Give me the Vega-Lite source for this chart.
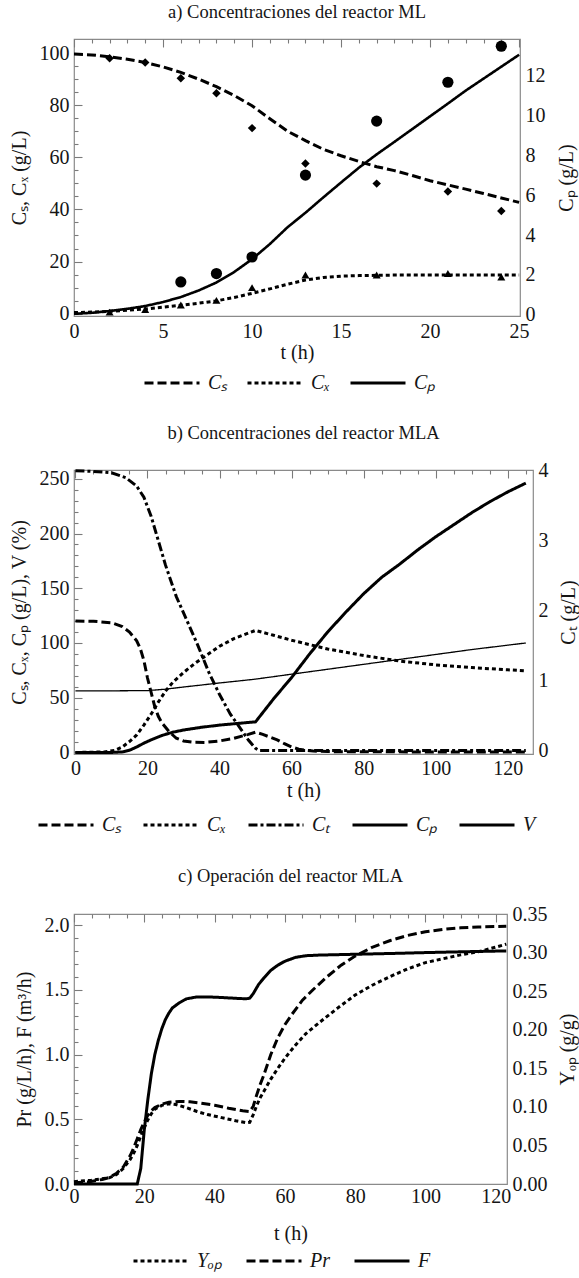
{
  "$schema": "https://vega.github.io/schema/vega-lite/v6.json",
  "background": "white",
  "padding": {"left": 8, "top": 2, "right": 0, "bottom": 0},
  "spacing": 29,
  "align": "none",
  "bounds": "full",
  "datasets": {
    "a_curves": [
      {"s":"Cₛ","t":0,"v":99.6},{"s":"Cₛ","t":1,"v":99.3},{"s":"Cₛ","t":2,"v":98.6},{"s":"Cₛ","t":3,"v":97.6},{"s":"Cₛ","t":4,"v":96.4},{"s":"Cₛ","t":5,"v":94.7},{"s":"Cₛ","t":6,"v":92.6},{"s":"Cₛ","t":7,"v":90.0},{"s":"Cₛ","t":8,"v":87.1},{"s":"Cₛ","t":9,"v":83.7},{"s":"Cₛ","t":10,"v":79.8},{"s":"Cₛ","t":11,"v":74.8},{"s":"Cₛ","t":12,"v":70.0},{"s":"Cₛ","t":13,"v":66.4},{"s":"Cₛ","t":14,"v":63.1},{"s":"Cₛ","t":15,"v":60.6},{"s":"Cₛ","t":16,"v":58.4},{"s":"Cₛ","t":17,"v":56.4},{"s":"Cₛ","t":18,"v":54.9},{"s":"Cₛ","t":19,"v":53.0},{"s":"Cₛ","t":20,"v":51.0},{"s":"Cₛ","t":21,"v":49.4},{"s":"Cₛ","t":22,"v":47.8},{"s":"Cₛ","t":23,"v":46.1},{"s":"Cₛ","t":24,"v":44.4},{"s":"Cₛ","t":25,"v":42.7},
      {"s":"Cₓ","t":0,"v":0.4},{"s":"Cₓ","t":1,"v":0.6},{"s":"Cₓ","t":2,"v":0.9},{"s":"Cₓ","t":3,"v":1.3},{"s":"Cₓ","t":4,"v":1.8},{"s":"Cₓ","t":5,"v":2.5},{"s":"Cₓ","t":6,"v":3.2},{"s":"Cₓ","t":7,"v":4.0},{"s":"Cₓ","t":8,"v":4.9},{"s":"Cₓ","t":9,"v":6.2},{"s":"Cₓ","t":10,"v":7.8},{"s":"Cₓ","t":11,"v":9.5},{"s":"Cₓ","t":12,"v":11.3},{"s":"Cₓ","t":13,"v":12.9},{"s":"Cₓ","t":14,"v":13.9},{"s":"Cₓ","t":15,"v":14.4},{"s":"Cₓ","t":16,"v":14.6},{"s":"Cₓ","t":17,"v":14.7},{"s":"Cₓ","t":18,"v":14.8},{"s":"Cₓ","t":20,"v":14.8},{"s":"Cₓ","t":22,"v":14.8},{"s":"Cₓ","t":25,"v":14.8},
      {"s":"Cₚ","t":0,"v":0.05},{"s":"Cₚ","t":1,"v":0.1},{"s":"Cₚ","t":2,"v":0.19},{"s":"Cₚ","t":3,"v":0.3},{"s":"Cₚ","t":4,"v":0.44},{"s":"Cₚ","t":5,"v":0.64},{"s":"Cₚ","t":6,"v":0.89},{"s":"Cₚ","t":7,"v":1.22},{"s":"Cₚ","t":8,"v":1.62},{"s":"Cₚ","t":9,"v":2.15},{"s":"Cₚ","t":10,"v":2.79},{"s":"Cₚ","t":11,"v":3.55},{"s":"Cₚ","t":12,"v":4.4},{"s":"Cₚ","t":13,"v":5.12},{"s":"Cₚ","t":14,"v":5.89},{"s":"Cₚ","t":15,"v":6.64},{"s":"Cₚ","t":16,"v":7.38},{"s":"Cₚ","t":17,"v":8.05},{"s":"Cₚ","t":18,"v":8.68},{"s":"Cₚ","t":19,"v":9.32},{"s":"Cₚ","t":20,"v":9.96},{"s":"Cₚ","t":21,"v":10.6},{"s":"Cₚ","t":22,"v":11.25},{"s":"Cₚ","t":23,"v":11.85},{"s":"Cₚ","t":24,"v":12.45},{"s":"Cₚ","t":25,"v":13.05}
    ],
    "a_points": [
      {"s":"Cₛ","t":2,"v":98.0},{"s":"Cₛ","t":4,"v":96.4},{"s":"Cₛ","t":6,"v":90.3},{"s":"Cₛ","t":8,"v":84.6},{"s":"Cₛ","t":10,"v":71.2},{"s":"Cₛ","t":13,"v":57.6},{"s":"Cₛ","t":17,"v":49.9},{"s":"Cₛ","t":21,"v":46.9},{"s":"Cₛ","t":24,"v":39.4},
      {"s":"Cₓ","t":2,"v":0.6},{"s":"Cₓ","t":4,"v":1.6},{"s":"Cₓ","t":6,"v":3.3},{"s":"Cₓ","t":8,"v":5.1},{"s":"Cₓ","t":10,"v":10.0},{"s":"Cₓ","t":13,"v":14.8},{"s":"Cₓ","t":17,"v":14.8},{"s":"Cₓ","t":21,"v":15.4},{"s":"Cₓ","t":24,"v":14.1},
      {"s":"Cₚ","t":6,"v":1.65},{"s":"Cₚ","t":8,"v":2.07},{"s":"Cₚ","t":10,"v":2.9},{"s":"Cₚ","t":13,"v":7.01},{"s":"Cₚ","t":17,"v":9.72},{"s":"Cₚ","t":21,"v":11.67},{"s":"Cₚ","t":24,"v":13.48}
    ],
    "b_curves": [
      {"s":"Cₛ","t":0,"v":120},{"s":"Cₛ","t":5,"v":119.8},{"s":"Cₛ","t":10,"v":118.5},{"s":"Cₛ","t":13,"v":115},{"s":"Cₛ","t":15,"v":110},{"s":"Cₛ","t":17,"v":102},{"s":"Cₛ","t":18,"v":95},{"s":"Cₛ","t":19,"v":84},{"s":"Cₛ","t":20,"v":68},{"s":"Cₛ","t":21,"v":55},{"s":"Cₛ","t":22,"v":42},{"s":"Cₛ","t":23,"v":33},{"s":"Cₛ","t":24,"v":27},{"s":"Cₛ","t":26,"v":19},{"s":"Cₛ","t":28,"v":13},{"s":"Cₛ","t":30,"v":10.5},{"s":"Cₛ","t":33,"v":9.3},{"s":"Cₛ","t":36,"v":9.2},{"s":"Cₛ","t":40,"v":10.5},{"s":"Cₛ","t":44,"v":13},{"s":"Cₛ","t":48,"v":16.5},{"s":"Cₛ","t":50,"v":18.5},{"s":"Cₛ","t":52,"v":16.5},{"s":"Cₛ","t":54,"v":14},{"s":"Cₛ","t":56,"v":11.5},{"s":"Cₛ","t":58,"v":8},{"s":"Cₛ","t":60,"v":5},{"s":"Cₛ","t":62,"v":3},{"s":"Cₛ","t":64,"v":2},{"s":"Cₛ","t":66,"v":1.3},{"s":"Cₛ","t":70,"v":0.8},{"s":"Cₛ","t":80,"v":0.6},{"s":"Cₛ","t":100,"v":0.5},{"s":"Cₛ","t":125,"v":0.5},
      {"s":"Cₓ","t":0,"v":0},{"s":"Cₓ","t":8,"v":0.5},{"s":"Cₓ","t":11,"v":2},{"s":"Cₓ","t":13,"v":5},{"s":"Cₓ","t":15,"v":10},{"s":"Cₓ","t":17,"v":16},{"s":"Cₓ","t":19,"v":25},{"s":"Cₓ","t":21,"v":35},{"s":"Cₓ","t":23,"v":46},{"s":"Cₓ","t":25,"v":56},{"s":"Cₓ","t":27,"v":64},{"s":"Cₓ","t":30,"v":73},{"s":"Cₓ","t":33,"v":81},{"s":"Cₓ","t":36,"v":88},{"s":"Cₓ","t":40,"v":97},{"s":"Cₓ","t":44,"v":104},{"s":"Cₓ","t":48,"v":109},{"s":"Cₓ","t":50,"v":111.5},{"s":"Cₓ","t":55,"v":107},{"s":"Cₓ","t":60,"v":102.5},{"s":"Cₓ","t":70,"v":94.5},{"s":"Cₓ","t":80,"v":88.5},{"s":"Cₓ","t":90,"v":83.5},{"s":"Cₓ","t":100,"v":80},{"s":"Cₓ","t":110,"v":77.5},{"s":"Cₓ","t":120,"v":75.5},{"s":"Cₓ","t":125,"v":74.5},
      {"s":"Cₚ","t":0,"v":0},{"s":"Cₚ","t":10,"v":0},{"s":"Cₚ","t":13,"v":0.5},{"s":"Cₚ","t":15,"v":2},{"s":"Cₚ","t":17,"v":5},{"s":"Cₚ","t":19,"v":8.5},{"s":"Cₚ","t":21,"v":11.5},{"s":"Cₚ","t":24,"v":15.5},{"s":"Cₚ","t":27,"v":18.5},{"s":"Cₚ","t":30,"v":20.5},{"s":"Cₚ","t":35,"v":23},{"s":"Cₚ","t":40,"v":25},{"s":"Cₚ","t":45,"v":26.5},{"s":"Cₚ","t":50,"v":28},{"s":"Cₚ","t":55,"v":49},{"s":"Cₚ","t":60,"v":68.5},{"s":"Cₚ","t":65,"v":90},{"s":"Cₚ","t":70,"v":110},{"s":"Cₚ","t":75,"v":128},{"s":"Cₚ","t":80,"v":145},{"s":"Cₚ","t":85,"v":160},{"s":"Cₚ","t":90,"v":172},{"s":"Cₚ","t":95,"v":185},{"s":"Cₚ","t":100,"v":197},{"s":"Cₚ","t":105,"v":208},{"s":"Cₚ","t":110,"v":219},{"s":"Cₚ","t":115,"v":229},{"s":"Cₚ","t":120,"v":238},{"s":"Cₚ","t":125,"v":246},
      {"s":"V","t":0,"v":56.3},{"s":"V","t":10,"v":56.3},{"s":"V","t":20,"v":56.5},{"s":"V","t":25,"v":57.8},{"s":"V","t":30,"v":59.8},{"s":"V","t":35,"v":61.6},{"s":"V","t":40,"v":63.5},{"s":"V","t":45,"v":65.2},{"s":"V","t":50,"v":67},{"s":"V","t":60,"v":71.5},{"s":"V","t":70,"v":76},{"s":"V","t":80,"v":80.5},{"s":"V","t":90,"v":85},{"s":"V","t":100,"v":89.5},{"s":"V","t":110,"v":94},{"s":"V","t":120,"v":98},{"s":"V","t":125,"v":100}
    ],
    "b_ct": [
      {"s":"Cₜ","t":0,"v":4.0},{"s":"Cₜ","t":5,"v":3.99},{"s":"Cₜ","t":10,"v":3.97},{"s":"Cₜ","t":14,"v":3.9},{"s":"Cₜ","t":17,"v":3.78},{"s":"Cₜ","t":19,"v":3.62},{"s":"Cₜ","t":21,"v":3.35},{"s":"Cₜ","t":23,"v":3.0},{"s":"Cₜ","t":25,"v":2.65},{"s":"Cₜ","t":28,"v":2.2},{"s":"Cₜ","t":31,"v":1.85},{"s":"Cₜ","t":34,"v":1.5},{"s":"Cₜ","t":37,"v":1.12},{"s":"Cₜ","t":40,"v":0.8},{"s":"Cₜ","t":43,"v":0.52},{"s":"Cₜ","t":46,"v":0.3},{"s":"Cₜ","t":48,"v":0.15},{"s":"Cₜ","t":50,"v":0.03},{"s":"Cₜ","t":51,"v":0},{"s":"Cₜ","t":80,"v":0},{"s":"Cₜ","t":125,"v":0}
    ],
    "c_left": [
      {"s":"Pr","t":0,"v":0.01},{"s":"Pr","t":4,"v":0.015},{"s":"Pr","t":6,"v":0.025},{"s":"Pr","t":8,"v":0.035},{"s":"Pr","t":10,"v":0.05},{"s":"Pr","t":12,"v":0.08},{"s":"Pr","t":14,"v":0.13},{"s":"Pr","t":16,"v":0.22},{"s":"Pr","t":17,"v":0.28},{"s":"Pr","t":18,"v":0.35},{"s":"Pr","t":19,"v":0.42},{"s":"Pr","t":20,"v":0.48},{"s":"Pr","t":21,"v":0.53},{"s":"Pr","t":22,"v":0.565},{"s":"Pr","t":23,"v":0.59},{"s":"Pr","t":25,"v":0.617},{"s":"Pr","t":27,"v":0.632},{"s":"Pr","t":30,"v":0.638},{"s":"Pr","t":33,"v":0.635},{"s":"Pr","t":36,"v":0.625},{"s":"Pr","t":40,"v":0.608},{"s":"Pr","t":44,"v":0.585},{"s":"Pr","t":48,"v":0.565},{"s":"Pr","t":50,"v":0.56},{"s":"Pr","t":51,"v":0.6},{"s":"Pr","t":52,"v":0.69},{"s":"Pr","t":53,"v":0.77},{"s":"Pr","t":54,"v":0.84},{"s":"Pr","t":56,"v":1.0},{"s":"Pr","t":58,"v":1.13},{"s":"Pr","t":60,"v":1.23},{"s":"Pr","t":62,"v":1.31},{"s":"Pr","t":65,"v":1.42},{"s":"Pr","t":68,"v":1.5},{"s":"Pr","t":72,"v":1.6},{"s":"Pr","t":76,"v":1.69},{"s":"Pr","t":80,"v":1.76},{"s":"Pr","t":85,"v":1.83},{"s":"Pr","t":90,"v":1.88},{"s":"Pr","t":95,"v":1.92},{"s":"Pr","t":100,"v":1.948},{"s":"Pr","t":105,"v":1.966},{"s":"Pr","t":110,"v":1.978},{"s":"Pr","t":115,"v":1.985},{"s":"Pr","t":123,"v":1.99},
      {"s":"F","t":0,"v":0},{"s":"F","t":18,"v":0},{"s":"F","t":19,"v":0.12},{"s":"F","t":20,"v":0.42},{"s":"F","t":21,"v":0.65},{"s":"F","t":22,"v":0.85},{"s":"F","t":23,"v":1.0},{"s":"F","t":24,"v":1.11},{"s":"F","t":25,"v":1.2},{"s":"F","t":26,"v":1.27},{"s":"F","t":27,"v":1.32},{"s":"F","t":28,"v":1.36},{"s":"F","t":30,"v":1.4},{"s":"F","t":32,"v":1.43},{"s":"F","t":35,"v":1.445},{"s":"F","t":38,"v":1.445},{"s":"F","t":42,"v":1.44},{"s":"F","t":46,"v":1.434},{"s":"F","t":49,"v":1.43},{"s":"F","t":50,"v":1.435},{"s":"F","t":51,"v":1.47},{"s":"F","t":52.5,"v":1.54},{"s":"F","t":54,"v":1.59},{"s":"F","t":56,"v":1.65},{"s":"F","t":58,"v":1.69},{"s":"F","t":60,"v":1.72},{"s":"F","t":63,"v":1.75},{"s":"F","t":66,"v":1.763},{"s":"F","t":70,"v":1.768},{"s":"F","t":80,"v":1.774},{"s":"F","t":90,"v":1.78},{"s":"F","t":100,"v":1.787},{"s":"F","t":110,"v":1.793},{"s":"F","t":123,"v":1.8}
    ],
    "c_yield": [
      {"s":"Yₒₚ","t":0,"v":0.003},{"s":"Yₒₚ","t":5,"v":0.005},{"s":"Yₒₚ","t":10,"v":0.008},{"s":"Yₒₚ","t":12,"v":0.012},{"s":"Yₒₚ","t":14,"v":0.02},{"s":"Yₒₚ","t":16,"v":0.032},{"s":"Yₒₚ","t":17,"v":0.04},{"s":"Yₒₚ","t":18,"v":0.05},{"s":"Yₒₚ","t":19,"v":0.062},{"s":"Yₒₚ","t":20,"v":0.073},{"s":"Yₒₚ","t":21,"v":0.083},{"s":"Yₒₚ","t":22,"v":0.091},{"s":"Yₒₚ","t":23,"v":0.097},{"s":"Yₒₚ","t":25,"v":0.102},{"s":"Yₒₚ","t":27,"v":0.104},{"s":"Yₒₚ","t":29,"v":0.103},{"s":"Yₒₚ","t":32,"v":0.099},{"s":"Yₒₚ","t":35,"v":0.094},{"s":"Yₒₚ","t":38,"v":0.09},{"s":"Yₒₚ","t":42,"v":0.086},{"s":"Yₒₚ","t":46,"v":0.082},{"s":"Yₒₚ","t":49,"v":0.0795},{"s":"Yₒₚ","t":50,"v":0.08},{"s":"Yₒₚ","t":51,"v":0.09},{"s":"Yₒₚ","t":52,"v":0.102},{"s":"Yₒₚ","t":53,"v":0.112},{"s":"Yₒₚ","t":54,"v":0.12},{"s":"Yₒₚ","t":56,"v":0.136},{"s":"Yₒₚ","t":58,"v":0.15},{"s":"Yₒₚ","t":60,"v":0.163},{"s":"Yₒₚ","t":63,"v":0.18},{"s":"Yₒₚ","t":66,"v":0.195},{"s":"Yₒₚ","t":70,"v":0.21},{"s":"Yₒₚ","t":75,"v":0.228},{"s":"Yₒₚ","t":80,"v":0.245},{"s":"Yₒₚ","t":85,"v":0.258},{"s":"Yₒₚ","t":90,"v":0.269},{"s":"Yₒₚ","t":95,"v":0.279},{"s":"Yₒₚ","t":100,"v":0.287},{"s":"Yₒₚ","t":105,"v":0.292},{"s":"Yₒₚ","t":110,"v":0.297},{"s":"Yₒₚ","t":115,"v":0.301},{"s":"Yₒₚ","t":120,"v":0.307},{"s":"Yₒₚ","t":123,"v":0.311}
    ]
  },
  "vconcat": [
    {
      "title": {"text": "a) Concentraciones del reactor ML", "offset": 14},
      "width": 446,
      "height": 277,
      "layer": [
        {
          "layer": [
            {
              "data": {"name": "a_curves"},
              "transform": [{"filter": "datum.s !== 'Cₚ'"}],
              "mark": {"type": "line", "strokeWidth": 3},
              "encoding": {
                "x": {"field": "t", "type": "quantitative", "scale": {"domain": [0, 25.05], "nice": false, "zero": false},
                  "axis": {"orient": "bottom", "title": "t (h)", "values": [0,1,2,3,4,5,6,7,8,9,10,11,12,13,14,15,16,17,18,19,20,21,22,23,24,25],
                    "labelExpr": "datum.value % 5 === 0 ? datum.label : ''", "labelOverlap": false,
                    "gridDash": {"condition": {"test": "datum.value % 5 === 0", "value": [8, 2000]}, "value": [4, 2000]}, "labelPadding": 5, "titlePadding": 1}},
                "y": {"field": "v", "type": "quantitative", "scale": {"domain": [-0.9, 105.4], "nice": false, "zero": false},
                  "axis": {"orient": "left", "title": "Cₛ, Cₓ (g/L)", "values": [0,5,10,15,20,25,30,35,40,45,50,55,60,65,70,75,80,85,90,95,100],
                    "labelExpr": "datum.value % 20 === 0 ? datum.label : ''", "labelOverlap": false,
                    "gridDash": {"condition": {"test": "datum.value % 20 === 0", "value": [8, 2000]}, "value": [4, 2000]}, "labelPadding": 5, "titlePadding": 10}},
                "strokeDash": {"field": "s", "type": "nominal", "scale": {"domain": ["Cₛ", "Cₓ", "Cₚ"], "range": [[9, 4], [4, 3], [1, 0]]},
                  "legend": {"title": null, "orient": "none", "direction": "horizontal", "legendX": 69, "legendY": 315, "columnPadding": 13}}
              }
            },
            {
              "data": {"name": "a_points"},
              "transform": [{"filter": "datum.s === 'Cₛ'"}],
              "mark": {"type": "point", "shape": "diamond", "filled": true, "size": 72, "color": "black", "opacity": 1},
              "encoding": {
                "x": {"field": "t", "type": "quantitative", "scale": {"domain": [0, 25.05], "nice": false, "zero": false},
                  "axis": {"orient": "bottom", "title": "t (h)", "values": [0,1,2,3,4,5,6,7,8,9,10,11,12,13,14,15,16,17,18,19,20,21,22,23,24,25],
                    "labelExpr": "datum.value % 5 === 0 ? datum.label : ''", "labelOverlap": false,
                    "gridDash": {"condition": {"test": "datum.value % 5 === 0", "value": [8, 2000]}, "value": [4, 2000]}, "labelPadding": 5, "titlePadding": 1}},
                "y": {"field": "v", "type": "quantitative", "scale": {"domain": [-0.9, 105.4], "nice": false, "zero": false},
                  "axis": {"orient": "left", "title": "Cₛ, Cₓ (g/L)", "values": [0,5,10,15,20,25,30,35,40,45,50,55,60,65,70,75,80,85,90,95,100],
                    "labelExpr": "datum.value % 20 === 0 ? datum.label : ''", "labelOverlap": false,
                    "gridDash": {"condition": {"test": "datum.value % 20 === 0", "value": [8, 2000]}, "value": [4, 2000]}, "labelPadding": 5, "titlePadding": 10}}
              }
            },
            {
              "data": {"name": "a_points"},
              "transform": [{"filter": "datum.s === 'Cₓ'"}],
              "mark": {"type": "point", "shape": "triangle-up", "filled": true, "size": 64, "color": "black", "opacity": 1},
              "encoding": {
                "x": {"field": "t", "type": "quantitative", "scale": {"domain": [0, 25.05], "nice": false, "zero": false},
                  "axis": {"orient": "bottom", "title": "t (h)", "values": [0,1,2,3,4,5,6,7,8,9,10,11,12,13,14,15,16,17,18,19,20,21,22,23,24,25],
                    "labelExpr": "datum.value % 5 === 0 ? datum.label : ''", "labelOverlap": false,
                    "gridDash": {"condition": {"test": "datum.value % 5 === 0", "value": [8, 2000]}, "value": [4, 2000]}, "labelPadding": 5, "titlePadding": 1}},
                "y": {"field": "v", "type": "quantitative", "scale": {"domain": [-0.9, 105.4], "nice": false, "zero": false},
                  "axis": {"orient": "left", "title": "Cₛ, Cₓ (g/L)", "values": [0,5,10,15,20,25,30,35,40,45,50,55,60,65,70,75,80,85,90,95,100],
                    "labelExpr": "datum.value % 20 === 0 ? datum.label : ''", "labelOverlap": false,
                    "gridDash": {"condition": {"test": "datum.value % 20 === 0", "value": [8, 2000]}, "value": [4, 2000]}, "labelPadding": 5, "titlePadding": 10}}
              }
            }
          ]
        },
        {
          "layer": [
            {
              "data": {"name": "a_curves"},
              "transform": [{"filter": "datum.s === 'Cₚ'"}],
              "mark": {"type": "line", "strokeWidth": 2.6},
              "encoding": {
                "x": {"field": "t", "type": "quantitative", "scale": {"domain": [0, 25.05], "nice": false, "zero": false},
                  "axis": {"orient": "top", "title": null, "labels": false, "values": [0,1,2,3,4,5,6,7,8,9,10,11,12,13,14,15,16,17,18,19,20,21,22,23,24,25],
                    "gridDash": {"condition": {"test": "datum.value % 5 === 0", "value": [8, 2000]}, "value": [4, 2000]}}},
                "y": {"field": "v", "type": "quantitative", "scale": {"domain": [-0.06, 13.84], "nice": false, "zero": false},
                  "axis": {"orient": "right", "title": "Cₚ (g/L)", "titleAngle": 270, "values": [0,0.5,1,1.5,2,2.5,3,3.5,4,4.5,5,5.5,6,6.5,7,7.5,8,8.5,9,9.5,10,10.5,11,11.5,12,12.5,13,13.5],
                    "labelExpr": "datum.value % 2 === 0 ? '' + datum.value : ''", "labelOverlap": false,
                    "gridDash": {"condition": {"test": "datum.value % 2 === 0", "value": [8, 2000]}, "value": [4, 2000]}, "labelPadding": 5, "titlePadding": 31}},
                "strokeDash": {"field": "s", "type": "nominal", "scale": {"domain": ["Cₛ", "Cₓ", "Cₚ"], "range": [[9, 4], [4, 3], [1, 0]]},
                  "legend": {"title": null, "orient": "none", "direction": "horizontal", "legendX": 69, "legendY": 315, "columnPadding": 13}}
              }
            },
            {
              "data": {"name": "a_points"},
              "transform": [{"filter": "datum.s === 'Cₚ'"}],
              "mark": {"type": "point", "shape": "circle", "filled": true, "size": 125, "color": "black", "opacity": 1},
              "encoding": {
                "x": {"field": "t", "type": "quantitative", "scale": {"domain": [0, 25.05], "nice": false, "zero": false},
                  "axis": {"orient": "top", "title": null, "labels": false, "values": [0,1,2,3,4,5,6,7,8,9,10,11,12,13,14,15,16,17,18,19,20,21,22,23,24,25],
                    "gridDash": {"condition": {"test": "datum.value % 5 === 0", "value": [8, 2000]}, "value": [4, 2000]}}},
                "y": {"field": "v", "type": "quantitative", "scale": {"domain": [-0.06, 13.84], "nice": false, "zero": false},
                  "axis": {"orient": "right", "title": "Cₚ (g/L)", "titleAngle": 270, "values": [0,0.5,1,1.5,2,2.5,3,3.5,4,4.5,5,5.5,6,6.5,7,7.5,8,8.5,9,9.5,10,10.5,11,11.5,12,12.5,13,13.5],
                    "labelExpr": "datum.value % 2 === 0 ? '' + datum.value : ''", "labelOverlap": false,
                    "gridDash": {"condition": {"test": "datum.value % 2 === 0", "value": [8, 2000]}, "value": [4, 2000]}, "labelPadding": 5, "titlePadding": 31}}
              }
            }
          ]
        }
      ],
      "resolve": {"scale": {"x": "independent", "y": "independent"}, "axis": {"x": "independent", "y": "independent"}}
    },
    {
      "title": {"text": "b) Concentraciones del reactor MLA", "offset": 18},
      "width": 459,
      "height": 284,
      "layer": [
        {
          "layer": [
            {
              "data": {"name": "b_curves"},
              "transform": [{"filter": "datum.s !== 'V'"}],
              "mark": {"type": "line", "strokeWidth": 3},
              "encoding": {
                "x": {"field": "t", "type": "quantitative", "scale": {"domain": [-0.4, 127], "nice": false, "zero": false},
                  "axis": {"orient": "bottom", "title": "t (h)", "values": [0,5,10,15,20,25,30,35,40,45,50,55,60,65,70,75,80,85,90,95,100,105,110,115,120,125],
                    "labelExpr": "datum.value % 20 === 0 ? datum.label : ''", "labelOverlap": false,
                    "gridDash": {"condition": {"test": "datum.value % 20 === 0", "value": [8, 2000]}, "value": [4, 2000]}, "labelPadding": 4, "titlePadding": 2}},
                "y": {"field": "v", "type": "quantitative", "scale": {"domain": [-1.4, 258], "nice": false, "zero": false},
                  "axis": {"orient": "left", "title": "Cₛ, Cₓ, Cₚ (g/L), V (%)", "values": [0,10,20,30,40,50,60,70,80,90,100,110,120,130,140,150,160,170,180,190,200,210,220,230,240,250],
                    "labelExpr": "datum.value % 50 === 0 ? datum.label : ''", "labelOverlap": false,
                    "gridDash": {"condition": {"test": "datum.value % 50 === 0", "value": [8, 2000]}, "value": [4, 2000]}, "labelPadding": 5, "titlePadding": 10}},
                "strokeDash": {"field": "s", "type": "nominal", "scale": {"domain": ["Cₛ", "Cₓ", "Cₜ", "Cₚ", "V"], "range": [[9, 4], [4, 3], [9, 3, 3, 3], [1, 0], [1, 0]]},
                  "legend": {"title": null, "orient": "none", "direction": "horizontal", "legendX": -37, "legendY": 326, "columnPadding": 15}}
              }
            },
            {
              "data": {"name": "b_curves"},
              "transform": [{"filter": "datum.s === 'V'"}],
              "mark": {"type": "line", "strokeWidth": 1.3},
              "encoding": {
                "x": {"field": "t", "type": "quantitative", "scale": {"domain": [-0.4, 127], "nice": false, "zero": false},
                  "axis": {"orient": "bottom", "title": "t (h)", "values": [0,5,10,15,20,25,30,35,40,45,50,55,60,65,70,75,80,85,90,95,100,105,110,115,120,125],
                    "labelExpr": "datum.value % 20 === 0 ? datum.label : ''", "labelOverlap": false,
                    "gridDash": {"condition": {"test": "datum.value % 20 === 0", "value": [8, 2000]}, "value": [4, 2000]}, "labelPadding": 4, "titlePadding": 2}},
                "y": {"field": "v", "type": "quantitative", "scale": {"domain": [-1.4, 258], "nice": false, "zero": false},
                  "axis": {"orient": "left", "title": "Cₛ, Cₓ, Cₚ (g/L), V (%)", "values": [0,10,20,30,40,50,60,70,80,90,100,110,120,130,140,150,160,170,180,190,200,210,220,230,240,250],
                    "labelExpr": "datum.value % 50 === 0 ? datum.label : ''", "labelOverlap": false,
                    "gridDash": {"condition": {"test": "datum.value % 50 === 0", "value": [8, 2000]}, "value": [4, 2000]}, "labelPadding": 5, "titlePadding": 10}},
                "strokeDash": {"field": "s", "type": "nominal", "scale": {"domain": ["Cₛ", "Cₓ", "Cₜ", "Cₚ", "V"], "range": [[9, 4], [4, 3], [9, 3, 3, 3], [1, 0], [1, 0]]},
                  "legend": {"title": null, "orient": "none", "direction": "horizontal", "legendX": -37, "legendY": 326, "columnPadding": 15}}
              }
            }
          ]
        },
        {
          "data": {"name": "b_ct"},
          "mark": {"type": "line", "strokeWidth": 3},
          "encoding": {
            "x": {"field": "t", "type": "quantitative", "scale": {"domain": [-0.4, 127], "nice": false, "zero": false},
              "axis": {"orient": "top", "title": null, "labels": false, "values": [0,5,10,15,20,25,30,35,40,45,50,55,60,65,70,75,80,85,90,95,100,105,110,115,120,125],
                "gridDash": {"condition": {"test": "datum.value % 20 === 0", "value": [8, 2000]}, "value": [4, 2000]}}},
            "y": {"field": "v", "type": "quantitative", "scale": {"domain": [-0.05, 4.01], "nice": false, "zero": false},
              "axis": {"orient": "right", "title": "Cₜ (g/L)", "titleAngle": 270, "values": [0,0.2,0.4,0.6,0.8,1,1.2,1.4,1.6,1.8,2,2.2,2.4,2.6,2.8,3,3.2,3.4,3.6,3.8,4],
                "labelExpr": "abs(datum.value - round(datum.value)) < 0.001 ? '' + round(datum.value) : ''", "labelOverlap": false,
                "gridDash": {"condition": {"test": "abs(datum.value - round(datum.value)) < 0.001", "value": [8, 2000]}, "value": [4, 2000]}, "labelPadding": 5, "titlePadding": 30}},
            "strokeDash": {"field": "s", "type": "nominal", "scale": {"domain": ["Cₛ", "Cₓ", "Cₜ", "Cₚ", "V"], "range": [[9, 4], [4, 3], [9, 3, 3, 3], [1, 0], [1, 0]]},
              "legend": {"title": null, "orient": "none", "direction": "horizontal", "legendX": -37, "legendY": 326, "columnPadding": 15}}
          }
        }
      ],
      "resolve": {"scale": {"x": "independent", "y": "independent"}, "axis": {"x": "independent", "y": "independent"}}
    },
    {
      "title": {"text": "c) Operación del reactor MLA", "offset": 19},
      "width": 433,
      "height": 270,
      "layer": [
        {
          "data": {"name": "c_left"},
          "mark": {"type": "line", "strokeWidth": 3},
          "encoding": {
            "x": {"field": "t", "type": "quantitative", "scale": {"domain": [0, 123.2], "nice": false, "zero": false},
              "axis": {"orient": "bottom", "title": "t (h)", "values": [0,5,10,15,20,25,30,35,40,45,50,55,60,65,70,75,80,85,90,95,100,105,110,115,120],
                "labelExpr": "datum.value % 20 === 0 ? datum.label : ''", "labelOverlap": false,
                "gridDash": {"condition": {"test": "datum.value % 20 === 0", "value": [8, 2000]}, "value": [4, 2000]},
                "labelPadding": 2, "titlePadding": 17}},
            "y": {"field": "v", "type": "quantitative", "scale": {"domain": [0, 2.085], "nice": false, "zero": false},
              "axis": {"orient": "left", "title": "Pr (g/L/h), F (m³/h)", "format": ".1f", "values": [0,0.1,0.2,0.3,0.4,0.5,0.6,0.7,0.8,0.9,1,1.1,1.2,1.3,1.4,1.5,1.6,1.7,1.8,1.9,2],
                "labelExpr": "abs(datum.value * 2 - round(datum.value * 2)) < 0.001 ? datum.label : ''", "labelOverlap": false,
                "gridDash": {"condition": {"test": "abs(datum.value * 2 - round(datum.value * 2)) < 0.001", "value": [8, 2000]}, "value": [4, 2000]},
                "labelPadding": 5, "titlePadding": 10}},
            "strokeDash": {"field": "s", "type": "nominal", "scale": {"domain": ["Yₒₚ", "Pr", "F"], "range": [[4, 3], [9, 4], [1, 0]]},
              "legend": {"title": null, "orient": "none", "direction": "horizontal", "legendX": 58, "legendY": 318, "columnPadding": 18}}
          }
        },
        {
          "data": {"name": "c_yield"},
          "mark": {"type": "line", "strokeWidth": 3},
          "encoding": {
            "x": {"field": "t", "type": "quantitative", "scale": {"domain": [0, 123.2], "nice": false, "zero": false},
              "axis": {"orient": "top", "title": null, "labels": false, "values": [0,5,10,15,20,25,30,35,40,45,50,55,60,65,70,75,80,85,90,95,100,105,110,115,120],
                "gridDash": {"condition": {"test": "datum.value % 20 === 0", "value": [8, 2000]}, "value": [4, 2000]}}},
            "y": {"field": "v", "type": "quantitative", "scale": {"domain": [0, 0.35], "nice": false, "zero": false},
              "axis": {"orient": "right", "title": "Yₒₚ (g/g)", "titleAngle": 270, "format": ".2f", "values": [0,0.01,0.02,0.03,0.04,0.05,0.06,0.07,0.08,0.09,0.1,0.11,0.12,0.13,0.14,0.15,0.16,0.17,0.18,0.19,0.2,0.21,0.22,0.23,0.24,0.25,0.26,0.27,0.28,0.29,0.3,0.31,0.32,0.33,0.34,0.35],
                "labelExpr": "abs(datum.value * 20 - round(datum.value * 20)) < 0.001 ? datum.label : ''", "labelOverlap": false,
                "gridDash": {"condition": {"test": "abs(datum.value * 20 - round(datum.value * 20)) < 0.001", "value": [8, 2000]}, "value": [4, 2000]},
                "labelPadding": 5, "titlePadding": 30}},
            "strokeDash": {"field": "s", "type": "nominal", "scale": {"domain": ["Yₒₚ", "Pr", "F"], "range": [[4, 3], [9, 4], [1, 0]]},
              "legend": {"title": null, "orient": "none", "direction": "horizontal", "legendX": 58, "legendY": 318, "columnPadding": 18}}
          }
        }
      ],
      "resolve": {"scale": {"x": "independent", "y": "independent"}, "axis": {"x": "independent", "y": "independent"}}
    }
  ],
  "resolve": {"scale": {"strokeDash": "independent"}, "legend": {"strokeDash": "independent"}},
  "config": {
    "font": "Liberation Serif",
    "view": {"stroke": "#8a8a8a", "strokeWidth": 1.2},
    "axis": {
      "domain": false, "ticks": false, "grid": true,
      "gridColor": "#7a7a7a", "gridWidth": 1.1, "gridOpacity": 1,
      "labelFont": "Liberation Serif", "labelFontSize": 20, "labelColor": "#151515",
      "titleFont": "Liberation Serif", "titleFontSize": 20, "titleFontWeight": "normal", "titleColor": "#151515",
      "labelFlush": false, "labelOverlap": false, "labelBound": false
    },
    "legend": {
      "symbolType": "stroke", "symbolSize": 3025,
      "symbolStrokeWidth": 3, "symbolStrokeColor": "black",
      "labelFont": "Liberation Serif", "labelFontStyle": "italic", "labelFontSize": 20, "labelColor": "#151515",
      "columnPadding": 16, "labelOffset": 7, "padding": 0
    },
    "title": {"font": "Liberation Serif", "fontSize": 18.5, "fontWeight": "normal", "color": "#151515", "anchor": "middle"},
    "line": {"color": "black", "strokeCap": "butt"}
  }
}
